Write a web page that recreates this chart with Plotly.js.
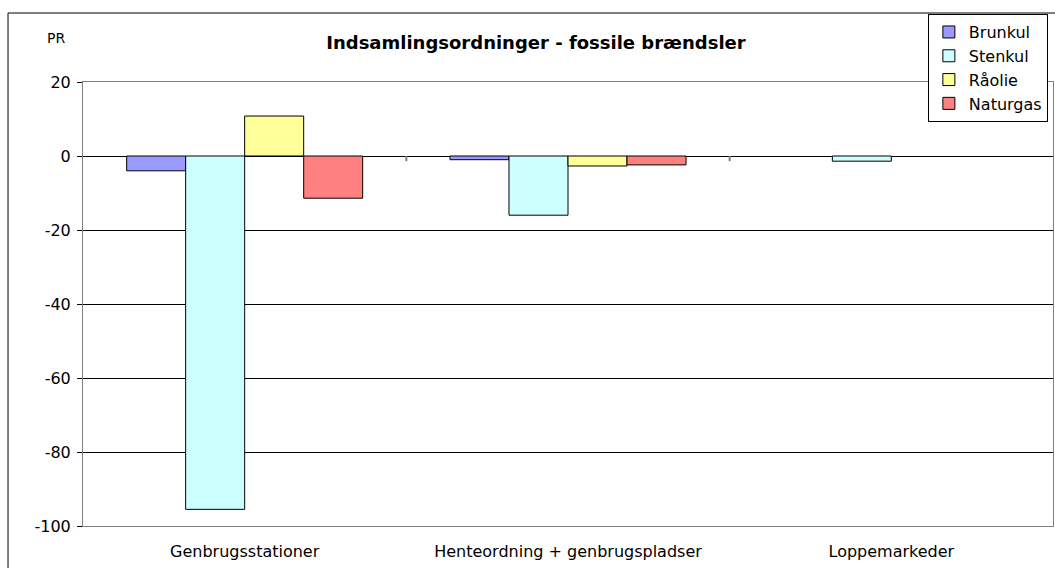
<!DOCTYPE html>
<html>
<head>
<meta charset="utf-8">
<script src="https://cdn.plot.ly/plotly-3.0.1.min.js"></script>
<style>html,body{margin:0;padding:0;background:#fff;}#chart{width:1055px;height:568px;}</style>
</head>
<body>
<div id="chart"></div>
<script>
const categories = ["Genbrugsstationer", "Henteordning + genbrugspladser", "Loppemarkeder"];
const seriesNames = ["Brunkul", "Stenkul", "Råolie", "Naturgas"];
const brunkul = [-4.0, -1.0, null];
const stenkul = [-95.5, -16.0, -1.4];
const raolie = [10.8, -2.7, null];
const naturgas = [-11.4, -2.4, null];
const colors = ["#9999FF", "#CCFFFF", "#FFFF99", "#FF8080"];
const yTicks = [-100, -80, -60, -40, -20, 0, 20];

const values = [brunkul, stenkul, raolie, naturgas];
const font = "DejaVu Sans, Arial, sans-serif";

const traces = seriesNames.map((n, i) => ({
  type: "bar",
  name: n,
  x: categories,
  y: values[i],
  marker: {color: colors[i], line: {color: "#000000", width: 1}},
  hoverinfo: "x+y+name"
}));

// plot area: x 83..1053, y 82..526 px
const shapes = [
  {type: "rect", xref: "paper", yref: "paper", x0: -0.0773, x1: 1.2, y0: -0.3, y1: 1.1554,
   line: {color: "#000000", width: 1}, fillcolor: "rgba(0,0,0,0)", layer: "below"}
];
[0.5, 1.5].forEach(v => shapes.push({
  type: "line", xref: "x", yref: "y", x0: v, x1: v, y0: 0, y1: -1.4,
  line: {color: "#808080", width: 2}
}));

const layout = {
  width: 1055, height: 568,
  margin: {l: 83, r: 2, t: 82, b: 42},
  paper_bgcolor: "#ffffff", plot_bgcolor: "#ffffff",
  font: {family: font, size: 16, color: "#000000"},
  title: {text: "<b>Indsamlingsordninger - fossile brændsler</b>", font: {family: font, size: 18, color: "#000000"},
          x: 0.508, xanchor: "center", y: 0.924, yanchor: "middle"},
  barmode: "group",
  bargap: 0.27,
  bargroupgap: 0,
  showlegend: true,
  legend: {x: 0.871, xanchor: "left", y: 1.153, yanchor: "top",
           bgcolor: "#ffffff", bordercolor: "#000000", borderwidth: 1,
           font: {family: font, size: 16, color: "#000000"}, traceorder: "normal"},
  xaxis: {
    type: "category",
    showgrid: false, zeroline: false,
    showline: true, linecolor: "#808080", linewidth: 1, mirror: true,
    ticks: "", tickfont: {family: font, size: 16, color: "#000000"},
    ticklabelstandoff: 11
  },
  yaxis: {
    range: [-100, 20], tickvals: yTicks, ticktext: yTicks.map(String),
    showgrid: true, gridcolor: "#000000", gridwidth: 1,
    zeroline: true, zerolinecolor: "#000000", zerolinewidth: 1,
    showline: true, linecolor: "#808080", linewidth: 1, mirror: true,
    ticks: "outside", ticklen: 5, tickcolor: "#000000",
    ticklabelstandoff: 3,
    tickfont: {family: font, size: 16, color: "#000000"}
  },
  shapes: shapes,
  annotations: [
    {text: "PR", xref: "paper", yref: "paper", x: -0.0278, y: 1.099, xanchor: "center", yanchor: "middle",
     showarrow: false, font: {family: font, size: 14, color: "#000000"}}
  ]
};

Plotly.newPlot("chart", traces, layout, {displayModeBar: false, staticPlot: true});
</script>
</body>
</html>
